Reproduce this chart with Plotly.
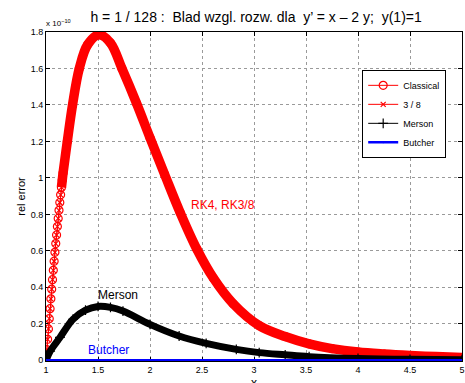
import plotly.graph_objects as go

# values in units of 1e-10
classical_x = [1.0, 1.0078, 1.0156, 1.0234, 1.0313, 1.0391, 1.0469, 1.0547, 1.0625, 1.0703,
               1.0781, 1.0859, 1.0938, 1.1016, 1.1094, 1.1172, 1.125, 1.1328, 1.1406, 1.1484,
               1.1563, 1.1641, 1.205, 1.255, 1.32, 1.40, 1.51, 1.62, 1.73, 1.87, 2.0, 2.14,
               2.29, 2.45, 2.61, 2.8, 3.05, 3.3, 3.53, 3.75, 4.0, 4.25, 4.5, 4.75, 5.0]
classical_y = [0, 0.058, 0.115, 0.172, 0.228, 0.283, 0.337, 0.39, 0.442, 0.493,
               0.543, 0.592, 0.64, 0.687, 0.733, 0.778, 0.822, 0.865, 0.907, 0.948,
               0.988, 1.027, 1.2, 1.4, 1.6, 1.73, 1.785, 1.74, 1.6, 1.41, 1.22, 1.02,
               0.81, 0.61, 0.45, 0.31, 0.19, 0.13, 0.09, 0.064, 0.045, 0.034, 0.026, 0.02, 0.015]
rk38_x = classical_x
rk38_y = classical_y

merson_x = [1.0, 1.04, 1.134, 1.26, 1.38, 1.5, 1.62, 1.74, 2.0, 2.28, 2.54, 2.83, 3.05,
            3.3, 3.53, 4.0, 4.5, 5.0]
merson_y = [0, 0.05, 0.125, 0.225, 0.275, 0.295, 0.29, 0.27, 0.197, 0.133, 0.093, 0.06,
            0.042, 0.03, 0.02, 0.01, 0.005, 0.003]

butcher_x = [1.0, 2.0, 3.0, 4.0, 5.0]
butcher_y = [0, 0.001, 0.0005, 0.0003, 0.0002]

x_ticks = [1, 1.5, 2, 2.5, 3, 3.5, 4, 4.5, 5]
y_ticks = [0, 0.2, 0.4, 0.6, 0.8, 1, 1.2, 1.4, 1.6, 1.8]

RED = "#ff0000"
BLUE = "#0000ff"
FONT = "Liberation Sans, Arial, Helvetica, sans-serif"

fig = go.Figure()

band_start = 19
# thick band (dense overlapping markers in original)
fig.add_trace(go.Scatter(x=classical_x[band_start:], y=classical_y[band_start:], mode="lines",
                         line=dict(color=RED, width=9.5, shape="spline", smoothing=1.0),
                         showlegend=False, hoverinfo="skip"))
fig.add_trace(go.Scatter(x=classical_x, y=classical_y, mode="lines+markers", name="Classical",
                         line=dict(color=RED, width=1),
                         marker=dict(symbol="circle-open", size=8, color=RED, line=dict(width=1.2, color=RED))))
fig.add_trace(go.Scatter(x=rk38_x, y=rk38_y, mode="lines+markers", name="3 / 8",
                         line=dict(color=RED, width=1),
                         marker=dict(symbol="x-thin", size=5, color=RED, line=dict(width=1.2, color=RED))))
fig.add_trace(go.Scatter(x=merson_x, y=merson_y, mode="lines", showlegend=False, hoverinfo="skip",
                         line=dict(color="black", width=7, shape="spline", smoothing=1.0)))
fig.add_trace(go.Scatter(x=merson_x, y=merson_y, mode="lines+markers", name="Merson",
                         line=dict(color="black", width=1),
                         marker=dict(symbol="cross-thin", size=7, color="black", line=dict(width=1.2, color="black"))))
fig.add_trace(go.Scatter(x=butcher_x, y=butcher_y, mode="lines+markers", name="Butcher",
                         line=dict(color=BLUE, width=2.5),
                         marker=dict(symbol="circle", size=2, color=BLUE)))

fig.add_annotation(x=2.70, y=0.853, text="RK4, RK3/8", showarrow=False,
                   font=dict(color=RED, size=12, family=FONT))
fig.add_annotation(x=1.69, y=0.36, text="Merson", showarrow=False,
                   font=dict(color="black", size=12, family=FONT))
fig.add_annotation(x=1.60, y=0.055, text="Butcher", showarrow=False,
                   font=dict(color=BLUE, size=12, family=FONT))
fig.add_annotation(xref="paper", yref="paper", x=0, y=1, xanchor="left", yanchor="bottom",
                   text="x 10<sup>\u221210</sup>", showarrow=False, yshift=2, xshift=-2,
                   font=dict(size=8, color="black", family=FONT))
# x-axis label (partly cut at bottom edge, as in the original)
fig.add_annotation(xref="paper", yref="paper", x=0.5, y=0, xanchor="center", yanchor="top",
                   text="x", showarrow=False, yshift=-13,
                   font=dict(size=12, color="black", family=FONT))

axis_common = dict(showline=True, linecolor="black", linewidth=1, mirror="ticks",
                   ticks="inside", ticklen=4, tickcolor="black",
                   showgrid=True, gridcolor="#9a9a9a", griddash="dot", gridwidth=1,
                   zeroline=False, tickfont=dict(size=9, color="black", family=FONT),
                   automargin=False, layer="below traces")

fig.update_layout(
    width=465, height=383,
    margin=dict(l=46, r=3, t=32, b=22),
    paper_bgcolor="white", plot_bgcolor="white",
    font=dict(family=FONT, color="black"),
    title=dict(text="h = 1 / 128 :\u00a0 Blad wzgl. rozw. dla\u00a0 y\u2019 = x \u2013 2 y;\u00a0 y(1)=1",
               x=0.505, xanchor="center", xref="paper", y=0.955, yanchor="middle", yref="container",
               font=dict(size=14, color="black", family=FONT)),
    xaxis=dict(range=[1, 5], tickvals=x_ticks, ticktext=[str(v) for v in x_ticks], **axis_common),
    yaxis=dict(range=[-0.004, 1.8], tickvals=y_ticks, ticktext=[("%g" % v) for v in y_ticks],
               title=dict(text="rel error", font=dict(size=11, family=FONT), standoff=2), **axis_common),
    legend=dict(x=0.962, y=0.885, xanchor="right", yanchor="top", bgcolor="white",
                bordercolor="black", borderwidth=1, font=dict(size=9, family=FONT),
                itemwidth=30, tracegroupgap=0),
    showlegend=True,
)

fig.write_html("out.html")
